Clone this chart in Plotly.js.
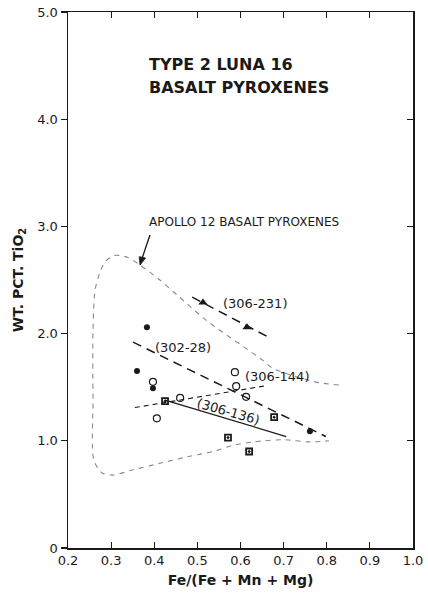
<!DOCTYPE html>
<html>
<head>
<meta charset="utf-8">
<script src="https://cdn.plot.ly/plotly-3.0.1.min.js"></script>
<style>html,body{margin:0;padding:0;background:#fff}#chart{width:428px;height:594px}</style>
</head>
<body>
<div id="chart"></div>
<script>
// Apollo 12 basalt pyroxene envelope (open outline)
const envX = [0.828,0.773,0.673,0.652,0.522,0.453,0.413,0.367,0.339,0.309,0.286,0.274,0.263,0.258,0.258,0.260,0.279,0.304,0.351,0.413,0.476,0.536,0.585,0.631,0.701,0.759,0.805];
const envY = [1.52,1.55,1.68,1.75,2.12,2.36,2.50,2.64,2.71,2.73,2.67,2.57,2.41,2.03,1.38,0.82,0.70,0.68,0.73,0.79,0.85,0.90,0.96,0.99,1.01,0.99,1.00];

// Trend lines for each sample
const line231X = [0.488,0.668], line231Y = [2.34,1.96];
const line28X  = [0.351,0.798], line28Y  = [1.92,1.04];
const line144X = [0.355,0.654], line144Y = [1.31,1.51];
const line136X = [0.425,0.706], line136Y = [1.38,1.04];

// Analyses
const s231X = [0.513,0.615], s231Y = [2.29,2.06];                         // filled triangles
const s28X  = [0.383,0.360,0.397,0.761], s28Y = [2.06,1.65,1.49,1.09];    // filled circles
const s144X = [0.397,0.406,0.460,0.587,0.590,0.613], s144Y = [1.55,1.21,1.40,1.64,1.51,1.41]; // open circles
const s136X = [0.425,0.571,0.620,0.678], s136Y = [1.37,1.03,0.90,1.22];  // squares

const xTickVals = [0.2,0.3,0.4,0.5,0.6,0.7,0.8,0.9,1.0];
const xTickText = ["0.2","0.3","0.4","0.5","0.6","0.7","0.8","0.9","1.0"];
const yTickVals = [0,1,2,3,4,5];
const yTickText = ["0","1.0","2.0","3.0","4.0","5.0"];

const INK = '#1a1a1a';
const FONT = 'DejaVu Sans, Liberation Sans, sans-serif';

const traces = [
  {x: envX, y: envY, yaxis: 'y2', mode: 'lines', line: {color: '#8a8a8a', width: 1.1, dash: '5px,5px', shape: 'spline', smoothing: 0.8}, hoverinfo: 'skip'},
  {x: line231X, y: line231Y, mode: 'lines', line: {color: INK, width: 1.5, dash: '9px,6px'}},
  {x: line28X, y: line28Y, mode: 'lines', line: {color: INK, width: 1.5, dash: '9px,6px'}},
  {x: line144X, y: line144Y, mode: 'lines', line: {color: INK, width: 1.1, dash: '5px,4px'}},
  {x: line136X, y: line136Y, mode: 'lines', line: {color: INK, width: 1.3}},
  {x: s231X, y: s231Y, mode: 'markers', marker: {symbol: 'triangle-up', size: 8, color: INK}},
  {x: s28X, y: s28Y, mode: 'markers', marker: {symbol: 'circle', size: 6, color: INK}},
  {x: s144X, y: s144Y, mode: 'markers', marker: {symbol: 'circle-open', size: 7, color: INK, line: {width: 1.2, color: INK}}},
  {x: s136X, y: s136Y, mode: 'markers', marker: {symbol: 'square-open-dot', size: 6, color: INK, line: {width: 1.8, color: INK}}}
];

const layout = {
  width: 428, height: 594,
  margin: {l: 68, r: 15, t: 12, b: 46},
  paper_bgcolor: '#fff', plot_bgcolor: '#fff',
  showlegend: false,
  font: {family: FONT, color: INK, size: 13},
  xaxis: {
    range: [0.2, 1.0], tickvals: xTickVals, ticktext: xTickText,
    showgrid: false, zeroline: false, showline: true, linecolor: INK, linewidth: 1.5,
    mirror: 'ticks', ticks: 'inside', ticklen: 6, tickcolor: INK, tickwidth: 1.2,
    tickfont: {size: 13, family: FONT, color: INK},
    title: {text: 'Fe/(Fe + Mn + Mg)', font: {size: 14, family: FONT, color: INK, weight: 'bold'}, standoff: 8}
  },
  yaxis: {
    range: [0, 5.0], tickvals: yTickVals, ticktext: yTickText,
    showgrid: false, zeroline: false, showline: true, linecolor: INK, linewidth: 1.5,
    ticks: 'outside', ticklen: 6, tickcolor: INK, tickwidth: 1.2,
    tickfont: {size: 13, family: FONT, color: INK},
    title: {text: 'WT. PCT. TiO<sub>2</sub>', font: {size: 14, family: FONT, color: INK, weight: 'bold'}, standoff: 10}
  },
  yaxis2: {
    overlaying: 'y', side: 'right', range: [0, 5.0], tickvals: [1,2,3,4],
    showticklabels: false, showgrid: false, zeroline: false, showline: true,
    linecolor: INK, linewidth: 1.5, ticks: 'inside', ticklen: 6, tickcolor: INK, tickwidth: 1.2
  },
  shapes: [
    // arrow from the APOLLO label down to the envelope
    {type: 'line', xref: 'x', yref: 'y', x0: 0.390, y0: 2.92, x1: 0.370, y1: 2.68, line: {color: INK, width: 1.3}},
    {type: 'path', xref: 'x', yref: 'y', path: 'M0.367,2.640 L0.380,2.705 L0.365,2.718 Z', fillcolor: INK, line: {color: INK, width: 0.8}}
  ],
  annotations: [
    {x: 0.383, y: 4.51, xanchor: 'left', yanchor: 'middle', text: 'TYPE 2 LUNA 16', showarrow: false,
     font: {size: 16, family: FONT, color: INK, weight: 'bold'}},
    {x: 0.383, y: 4.30, xanchor: 'left', yanchor: 'middle', text: 'BASALT PYROXENES', showarrow: false,
     font: {size: 16, family: FONT, color: INK, weight: 'bold'}},
    {x: 0.607, y: 3.04, text: 'APOLLO 12 BASALT PYROXENES', showarrow: false,
     font: {size: 12, family: FONT, color: INK}},
    {x: 0.634, y: 2.28, text: '(306-231)', showarrow: false, font: {size: 13, family: FONT, color: INK}},
    {x: 0.467, y: 1.87, text: '(302-28)', showarrow: false, font: {size: 13, family: FONT, color: INK}},
    {x: 0.685, y: 1.60, text: '(306-144)', showarrow: false, font: {size: 13, family: FONT, color: INK}},
    {x: 0.571, y: 1.27, text: '(306-136)', textangle: 16, showarrow: false, font: {size: 13, family: FONT, color: INK}}
  ]
};

Plotly.newPlot('chart', traces, layout, {staticPlot: true, displayModeBar: false});
</script>
</body>
</html>
